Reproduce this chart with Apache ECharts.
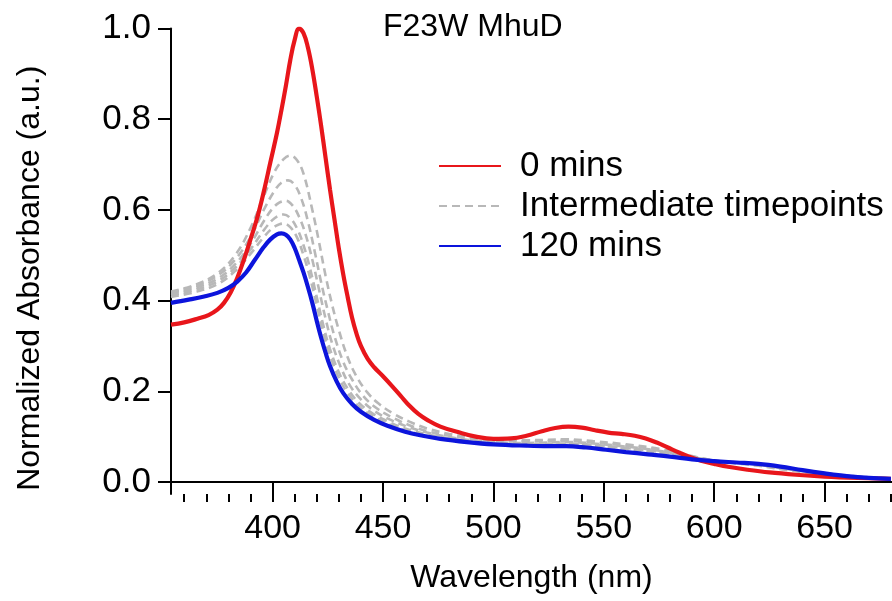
<!DOCTYPE html>
<html>
<head>
<meta charset="utf-8">
<script src="https://cdn.jsdelivr.net/npm/echarts@6/dist/echarts.min.js"></script>
<style>
html,body{margin:0;padding:0;background:#fff;}
#chart{width:892px;height:601px;}
</style>
</head>
<body>
<div id="chart"></div>
<script>
// ---- data (wavelength nm, normalized absorbance) ----
const title = "F23W MhuD";
const xTickLabels = [400, 450, 500, 550, 600, 650];
const xMinorTicks = [360, 370, 380, 390, 400, 410, 420, 430, 440, 450, 460, 470, 480, 490, 500, 510, 520, 530, 540, 550, 560, 570, 580, 590, 600, 610, 620, 630, 640, 650, 660, 670, 680];
const yTickLabels = [0.0, 0.2, 0.4, 0.6, 0.8, 1.0];

const redX = [354, 360, 366, 371, 375, 378, 381, 384, 387, 390, 393, 396, 399, 402, 404, 406, 408, 410, 412, 414, 416, 418, 420, 422, 424, 426, 428, 430, 432, 434, 436, 438, 440, 443, 446, 450, 454, 458, 462, 466, 470, 476, 484, 492, 500, 508, 515, 522, 528, 534, 540, 546, 552, 558, 564, 569, 574, 579, 584, 589, 594, 600, 607, 615, 625, 637, 650, 665, 680];
const redY = [0.347, 0.352, 0.36, 0.368, 0.38, 0.395, 0.418, 0.45, 0.49, 0.535, 0.582, 0.64, 0.705, 0.77, 0.82, 0.873, 0.93, 0.975, 1.0, 0.99, 0.958, 0.91, 0.85, 0.785, 0.715, 0.645, 0.58, 0.515, 0.458, 0.408, 0.362, 0.327, 0.3, 0.272, 0.253, 0.233, 0.212, 0.19, 0.168, 0.15, 0.137, 0.122, 0.11, 0.10, 0.095, 0.096, 0.102, 0.112, 0.119, 0.122, 0.12, 0.114, 0.109, 0.106, 0.102, 0.096, 0.087, 0.076, 0.065, 0.055, 0.047, 0.04, 0.033, 0.027, 0.021, 0.016, 0.012, 0.009, 0.007];

const blueX = [354, 362, 369, 375, 380, 384, 388, 392, 396, 399, 402, 404, 406, 408, 410, 412, 414, 416, 418, 420, 422, 424, 426, 429, 432, 436, 440, 446, 452, 460, 468, 476, 488, 500, 515, 525, 533, 542, 551, 560, 570, 580, 590, 600, 610, 620, 630, 640, 650, 660, 670, 680];
const blueY = [0.395, 0.402, 0.409, 0.417, 0.428, 0.442, 0.462, 0.49, 0.518, 0.535, 0.546, 0.548, 0.545, 0.535, 0.516, 0.49, 0.462, 0.43, 0.395, 0.355, 0.318, 0.285, 0.256, 0.222, 0.196, 0.172, 0.155, 0.137, 0.124, 0.111, 0.102, 0.095, 0.088, 0.083, 0.08, 0.079, 0.079, 0.076, 0.071, 0.066, 0.061, 0.056, 0.05, 0.046, 0.043, 0.04, 0.034, 0.026, 0.019, 0.013, 0.009, 0.007];

const g1X = [354, 365, 375, 383, 390, 396, 401, 405, 408, 411, 414, 418, 421, 424, 427, 430, 434, 438, 443, 448, 455, 462, 470, 480, 490, 500, 515, 533, 545, 560, 575, 590, 600, 610, 620, 635, 650, 665, 680];
const g1Y = [0.42, 0.435, 0.46, 0.50, 0.56, 0.63, 0.685, 0.712, 0.72, 0.71, 0.68, 0.60, 0.53, 0.455, 0.39, 0.335, 0.275, 0.233, 0.197, 0.173, 0.15, 0.133, 0.118, 0.106, 0.099, 0.094, 0.092, 0.094, 0.09, 0.083, 0.073, 0.057, 0.047, 0.041, 0.036, 0.025, 0.017, 0.011, 0.008];

const g2X = [354, 365, 375, 383, 390, 396, 401, 404, 407, 410, 413, 416, 419, 422, 425, 428, 432, 436, 441, 447, 454, 462, 470, 480, 490, 500, 515, 533, 545, 560, 575, 590, 600, 610, 620, 635, 650, 665, 680];
const g2Y = [0.418, 0.432, 0.455, 0.49, 0.54, 0.60, 0.643, 0.66, 0.665, 0.655, 0.625, 0.575, 0.51, 0.44, 0.378, 0.322, 0.265, 0.226, 0.19, 0.163, 0.143, 0.125, 0.112, 0.102, 0.095, 0.091, 0.089, 0.091, 0.087, 0.08, 0.071, 0.056, 0.047, 0.042, 0.037, 0.026, 0.018, 0.011, 0.008];

const g3X = [354, 365, 375, 383, 390, 396, 400, 403, 406, 409, 412, 415, 418, 421, 424, 427, 431, 435, 440, 446, 453, 461, 470, 480, 490, 500, 515, 533, 545, 560, 575, 590, 600, 610, 620, 635, 650, 665, 680];
const g3Y = [0.415, 0.428, 0.448, 0.48, 0.525, 0.575, 0.603, 0.616, 0.62, 0.61, 0.585, 0.545, 0.49, 0.425, 0.36, 0.305, 0.252, 0.213, 0.182, 0.157, 0.138, 0.122, 0.109, 0.099, 0.092, 0.088, 0.086, 0.088, 0.085, 0.078, 0.069, 0.055, 0.047, 0.043, 0.038, 0.027, 0.018, 0.011, 0.008];

const g4X = [354, 365, 375, 383, 390, 396, 400, 403, 405, 408, 411, 414, 417, 420, 423, 426, 430, 434, 439, 445, 452, 460, 470, 480, 490, 500, 515, 533, 545, 560, 575, 590, 600, 610, 620, 635, 650, 665, 680];
const g4Y = [0.412, 0.424, 0.442, 0.472, 0.513, 0.555, 0.578, 0.588, 0.59, 0.582, 0.56, 0.522, 0.47, 0.408, 0.345, 0.293, 0.242, 0.206, 0.175, 0.152, 0.134, 0.118, 0.105, 0.096, 0.089, 0.085, 0.083, 0.085, 0.082, 0.075, 0.067, 0.054, 0.047, 0.043, 0.039, 0.028, 0.019, 0.012, 0.008];

const g5X = [354, 365, 375, 383, 390, 396, 400, 403, 405, 408, 411, 414, 417, 420, 423, 426, 430, 434, 439, 445, 452, 460, 470, 480, 490, 500, 515, 533, 545, 560, 575, 590, 600, 610, 620, 635, 650, 665, 680];
const g5Y = [0.408, 0.419, 0.436, 0.465, 0.503, 0.54, 0.56, 0.568, 0.57, 0.562, 0.54, 0.50, 0.45, 0.39, 0.328, 0.279, 0.23, 0.196, 0.167, 0.146, 0.129, 0.114, 0.102, 0.093, 0.087, 0.083, 0.081, 0.083, 0.08, 0.073, 0.065, 0.053, 0.046, 0.043, 0.039, 0.029, 0.019, 0.012, 0.008];

const legendNames = ["0 mins", "Intermediate timepoints", "120 mins"];

// ---- build ----
function zip(xs, ys) { return xs.map((x, i) => [x, ys[i]]); }
const FONT = "Liberation Sans, Arial, sans-serif";
const RED = "#e8161b", BLUE = "#0c14dc", GRAY = "#b8b8b8";
const SMOOTH = 0.4;

const grays = [[g1X, g1Y], [g2X, g2Y], [g3X, g3Y], [g4X, g4Y], [g5X, g5Y]];
const series = grays.map(([xs, ys]) => ({
  name: legendNames[1], type: "line", data: zip(xs, ys), symbol: "none", smooth: SMOOTH,
  lineStyle: { color: GRAY, width: 2.6, type: [8, 5] }, itemStyle: { color: GRAY }, z: 2
}));
series.push({
  name: legendNames[0], type: "line", data: zip(redX, redY), symbol: "none", smooth: SMOOTH,
  lineStyle: { color: RED, width: 4.2 }, itemStyle: { color: RED }, z: 3
});
series.push({
  name: legendNames[2], type: "line", data: zip(blueX, blueY), symbol: "none", smooth: SMOOTH,
  lineStyle: { color: BLUE, width: 4.2 }, itemStyle: { color: BLUE }, z: 4
});

const chart = echarts.init(document.getElementById("chart"), null, { renderer: "canvas" });
chart.setOption({
  animation: false,
  backgroundColor: "#fff",
  title: {
    text: title, left: 383, top: 11, padding: 0,
    textStyle: { fontFamily: FONT, fontSize: 32, fontWeight: "normal", color: "#000" }
  },
  legend: {
    data: legendNames, orient: "vertical", left: 438, top: 148, padding: 0,
    itemWidth: 62, itemHeight: 14, itemGap: 4,
    itemStyle: { opacity: 0 },
    textStyle: { fontFamily: FONT, fontSize: 35, color: "#000", padding: [0, 0, 0, 14], lineHeight: 36 },
    selectedMode: false
  },
  grid: { left: 171, right: 0, top: 28.5, bottom: 107, containLabel: false },
  xAxis: [{
    type: "value", min: 354, max: 680.5,
    name: "Wavelength (nm)", nameLocation: "middle", nameGap: 68,
    nameTextStyle: { fontFamily: FONT, fontSize: 32, color: "#000" },
    axisLine: { show: true, lineStyle: { color: "#000", width: 2 } },
    axisTick: { show: true, length: 15, lineStyle: { color: "#000", width: 2 }, customValues: xTickLabels },
    axisLabel: { customValues: xTickLabels, margin: 18, fontFamily: FONT, fontSize: 34, color: "#000" },
    splitLine: { show: false }
  }, {
    type: "value", min: 354, max: 680.5, position: "bottom",
    axisLine: { show: false },
    axisTick: { show: true, length: 8, lineStyle: { color: "#000", width: 2 }, customValues: xMinorTicks },
    axisLabel: { show: false }, splitLine: { show: false }
  }],
  yAxis: {
    type: "value", min: -0.0265, max: 1.0,
    name: "Normalized Absorbance (a.u.)", nameLocation: "middle", nameGap: 125,
    nameTextStyle: { fontFamily: FONT, fontSize: 32, color: "#000", padding: [0, 34, 0, 0] },
    axisLine: { show: true, lineStyle: { color: "#000", width: 2 } },
    axisTick: { show: true, length: 13, lineStyle: { color: "#000", width: 2 }, customValues: yTickLabels },
    axisLabel: { customValues: yTickLabels, margin: 20, fontFamily: FONT, fontSize: 35, color: "#000",
      formatter: v => v.toFixed(1) },
    splitLine: { show: false }
  },
  series: series
});
</script>
</body>
</html>
